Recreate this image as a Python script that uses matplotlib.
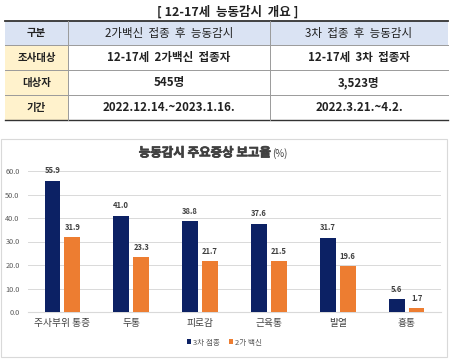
import matplotlib.pyplot as plt
import matplotlib.patheffects as pe
import numpy as np
from matplotlib.patches import Rectangle

plt.rcParams['font.family'] = ['Noto Sans CJK KR', 'DejaVu Sans']

# table data
table_title = '[ 12-17세  능동감시  개요 ]'
header = ['구분', '2가백신  접종  후  능동감시', '3차  접종  후  능동감시']
row_names = ['조사대상', '대상자', '기간']
col_2ga = ['12-17세  2가백신  접종자', '545명', '2022.12.14.~2023.1.16.']
col_3cha = ['12-17세  3차  접종자', '3,523명', '2022.3.21.~4.2.']

# chart data
categories = ['주사부위 통증', '두통', '피로감', '근육통', '발열', '흉통']
third_dose = [55.9, 41.0, 38.8, 37.6, 31.7, 5.6]
bivalent = [31.9, 23.3, 21.7, 21.5, 19.6, 1.7]
yticks = [0, 10, 20, 30, 40, 50, 60]

navy = '#0c2164'
orange = '#ed7d31'

fig = plt.figure(figsize=(4.5, 3.6), dpi=100)

# overlay axes in pixel coords for table and box
bg = fig.add_axes([0, 0, 1, 1])
bg.set_xlim(0, 450)
bg.set_ylim(360, 0)
bg.axis('off')

bg.text(228, 12, table_title, ha='center', va='center', fontsize=9, fontweight='bold', color='#222222')

row_y = [21, 45, 70, 95, 120]
col_x = [5, 68, 270, 448]
# backgrounds
bg.add_patch(Rectangle((col_x[0], row_y[0]), col_x[3] - col_x[0], row_y[1] - row_y[0], facecolor='#dae3f3', edgecolor='none'))
for i in range(3):
    bg.add_patch(Rectangle((col_x[0], row_y[i + 1]), col_x[1] - col_x[0], row_y[i + 2] - row_y[i + 1], facecolor='#fff2cc', edgecolor='none'))
# lines
bg.plot([col_x[0], col_x[3]], [row_y[0], row_y[0]], color='#333333', lw=1.3)
bg.plot([col_x[0], col_x[3]], [row_y[-1], row_y[-1]], color='#333333', lw=1.0)
for y in row_y[1:-1]:
    bg.plot([col_x[0], col_x[3]], [y, y], color='#9a9a9a', lw=0.7)
for x in col_x[1:3]:
    bg.plot([x, x], [row_y[0], row_y[-1]], color='#9a9a9a', lw=0.7)

cells = [header] + [[row_names[i], col_2ga[i], col_3cha[i]] for i in range(3)]
for r, row in enumerate(cells):
    yc = (row_y[r] + row_y[r + 1]) / 2
    for c, txt in enumerate(row):
        xc = (col_x[c] + col_x[c + 1]) / 2
        w = 'bold' if (c == 0 or r > 0) else 'normal'
        fs = 7.5 if c == 0 else 8.3
        bg.text(xc, yc, txt, ha='center', va='center', fontsize=fs, color='#222222', fontweight=w)

# chart box
bg.add_patch(Rectangle((1, 139), 446, 218, facecolor='white', edgecolor='#d9d9d9', lw=0.8))

# title
bg.text(271, 153, '능동감시 주요증상 보고율', ha='right', va='center', fontsize=9, fontweight='bold', color='#404040',
        path_effects=[pe.withStroke(linewidth=0.5, foreground='#404040')])
bg.text(272, 154, '(%)', ha='left', va='center', fontsize=7, color='#404040')

ax = fig.add_axes([28 / 450, 48 / 360, 413 / 450, 141 / 360])
ax.set_zorder(2)
ax.patch.set_alpha(0)
x = np.arange(len(categories))
w = 0.23
b1 = ax.bar(x - 0.145, third_dose, w, color=navy, label='3차 접종', zorder=3)
b2 = ax.bar(x + 0.145, bivalent, w, color=orange, label='2가 백신', zorder=3)
for bars, vals in [(b1, third_dose), (b2, bivalent)]:
    for rect, v in zip(bars, vals):
        ax.text(rect.get_x() + rect.get_width() / 2, v + 2.2, f'{v:.1f}', ha='center', va='bottom',
                fontsize=5.5, fontweight='bold', color='#404040')

ax.set_xlim(-0.5, len(categories) - 0.5)
ax.set_ylim(0, 60)
ax.set_yticks(yticks)
ax.set_yticklabels([f'{t:.1f}' for t in yticks], fontsize=5.3, color='#595959')
ax.set_xticks(x)
ax.set_xticklabels(categories, fontsize=7, color='#404040')
ax.tick_params(length=0, pad=4)
ax.tick_params(axis='y', pad=6)
ax.grid(axis='y', color='#d9d9d9', lw=0.7, zorder=0)
for s in ['top', 'right', 'left']:
    ax.spines[s].set_visible(False)
ax.spines['bottom'].set_color('#d9d9d9')

ax.legend(loc='upper center', bbox_to_anchor=(0.475, -0.14), ncol=2, frameon=False, fontsize=5.5,
          handlelength=0.6, handleheight=0.6, handletextpad=0.2, columnspacing=1.2,
          labelcolor='#595959')

fig.savefig('out.png', dpi=100)
